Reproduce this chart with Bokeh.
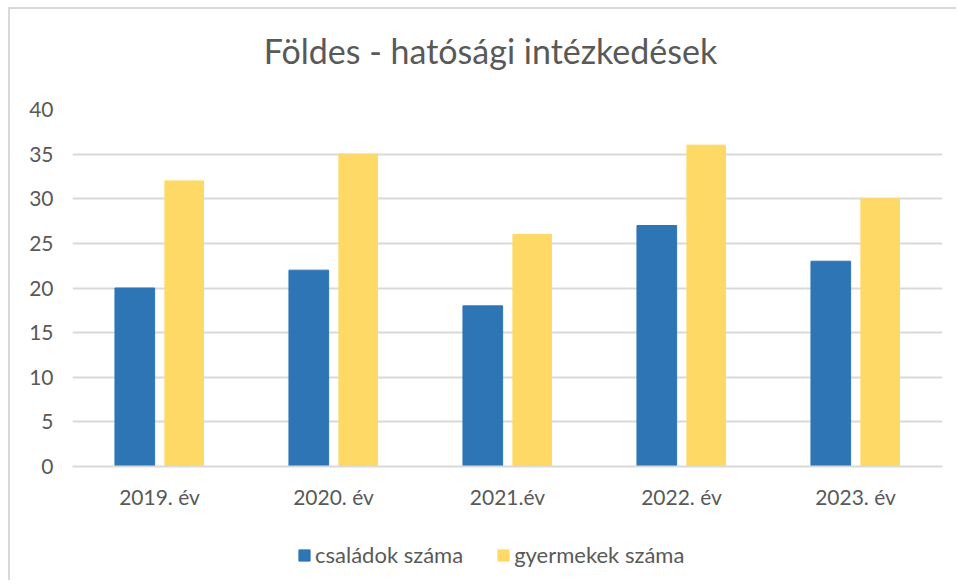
from bokeh.plotting import figure
from bokeh.layouts import column
from bokeh.models import ColumnDataSource, FactorRange, Range1d, Legend, LegendItem, Label
from bokeh.transform import dodge
from bokeh.embed import file_html
from bokeh.resources import INLINE

years = ["2019. év", "2020. év", "2021.év", "2022. év", "2023. év"]
csaladok = [20, 22, 18, 27, 23]
gyermekek = [32, 35, 26, 36, 30]
y_ticks = [0, 5, 10, 15, 20, 25, 30, 35, 40]
title_text = "Földes - hatósági intézkedések"
series_names = ["családok száma", "gyermekek száma"]

FONT = "Lato"
TXT = "#595959"
GRID = "#d9d9d9"
BLUE = "#2E75B6"
YELLOW = "#FFD966"

src = ColumnDataSource(dict(years=years, csaladok=csaladok, gyermekek=gyermekek))

# title strip
tt = figure(width=946, height=86, x_range=Range1d(0, 870), y_range=Range1d(0, 86),
            x_axis_location=None, y_axis_location=None,
            output_backend="svg", toolbar_location=None,
            min_border_left=62, min_border_right=14, min_border_top=0, min_border_bottom=0)
tt.grid.visible = False
tt.outline_line_color = None
tt.add_layout(Label(x=418, y=45, text=title_text, text_align="center",
                    text_baseline="alphabetic", text_font=FONT, text_font_size="34px",
                    text_color=TXT))

p = figure(x_range=FactorRange(*years, range_padding=0), y_range=Range1d(0, 40),
           width=946, height=425, output_backend="svg", toolbar_location=None,
           min_border_left=62, min_border_right=14, min_border_top=14, min_border_bottom=54)
p.outline_line_color = None

r1 = p.vbar(x=dodge("years", -0.142, range=p.x_range), top="csaladok", width=0.228,
            source=src, color=BLUE)
r2 = p.vbar(x=dodge("years", 0.142, range=p.x_range), top="gyermekek", width=0.222,
            source=src, color=YELLOW)

p.yaxis.ticker = y_ticks
p.yaxis.axis_line_color = None
p.yaxis.major_tick_line_color = None
p.yaxis.minor_tick_line_color = None
p.yaxis.major_label_standoff = 13
p.yaxis.major_label_text_font = FONT
p.yaxis.major_label_text_font_size = "21px"
p.yaxis.major_label_text_color = TXT

p.xaxis.axis_line_color = GRID
p.xaxis.axis_line_width = 2
p.xaxis.major_tick_line_color = None
p.xaxis.major_label_standoff = 11
p.xaxis.major_label_text_font = FONT
p.xaxis.major_label_text_font_size = "21px"
p.xaxis.major_label_text_color = TXT

p.xgrid.grid_line_color = None
p.ygrid.grid_line_color = GRID
p.ygrid.grid_line_width = 2

# legend strip: same series, drawn outside its visible y range so only the legend shows
lg = figure(width=946, height=60, x_range=FactorRange(*years, range_padding=0),
            y_range=Range1d(100, 101), x_axis_location=None, y_axis_location=None,
            output_backend="svg", toolbar_location=None,
            min_border_left=62, min_border_right=14, min_border_top=0, min_border_bottom=0)
lg.grid.visible = False
lg.outline_line_color = None
e1 = lg.vbar(x="years", top="csaladok", width=0.2, source=src, color=BLUE)
e2 = lg.vbar(x="years", top="gyermekek", width=0.2, source=src, color=YELLOW)
legend = Legend(items=[LegendItem(label=series_names[0], renderers=[e1]),
                       LegendItem(label=series_names[1], renderers=[e2])],
                orientation="horizontal", location=(225, 12),
                label_text_font=FONT, label_text_font_size="22px", label_text_color=TXT,
                glyph_width=14, glyph_height=14, spacing=33, label_standoff=4,
                border_line_color=None, background_fill_alpha=0, margin=0, padding=0)
lg.add_layout(legend, "center")

layout = column(tt, p, lg, spacing=0)
layout.styles = {"margin-left": "8px", "margin-top": "7px",
                 "border-left": "2px solid #d9d9d9", "border-top": "2px solid #d9d9d9"}

open("out.html", "w").write(file_html(layout, INLINE))
